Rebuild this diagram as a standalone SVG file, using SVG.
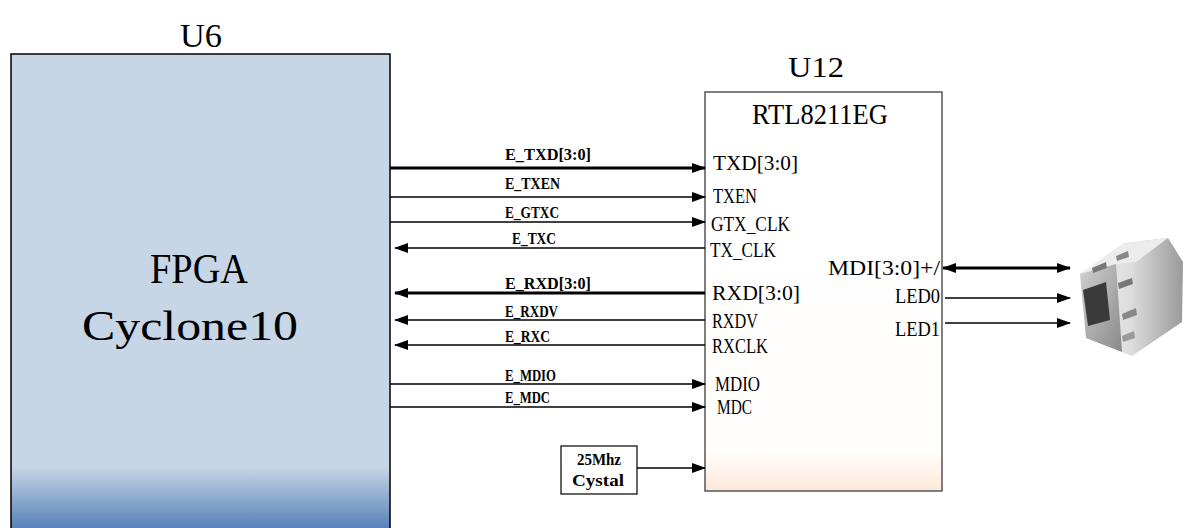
<svg xmlns="http://www.w3.org/2000/svg" width="1186" height="528" viewBox="0 0 1186 528">
<defs>
<linearGradient id="fpgaGrad" x1="0" y1="0" x2="0" y2="1">
<stop offset="0" stop-color="#c6d6e6"/>
<stop offset="0.86" stop-color="#c6d6e6"/>
<stop offset="1" stop-color="#4d79b5"/>
</linearGradient>
<linearGradient id="phyGrad" x1="0" y1="0" x2="0" y2="1">
<stop offset="0" stop-color="#ffffff"/>
<stop offset="0.9" stop-color="#fffefd"/>
<stop offset="1" stop-color="#fde8d9"/>
</linearGradient>
<linearGradient id="jackGrad" x1="0" y1="0" x2="1" y2="0">
<stop offset="0" stop-color="#f4f4f4"/>
<stop offset="0.5" stop-color="#dcdcdc"/>
<stop offset="1" stop-color="#9a9a9a"/>
</linearGradient>
<linearGradient id="jackFront" x1="0" y1="0" x2="1" y2="1">
<stop offset="0" stop-color="#d0d0d0"/>
<stop offset="1" stop-color="#8a8a8a"/>
</linearGradient>
<marker id="arr" markerUnits="userSpaceOnUse" markerWidth="14" markerHeight="10" refX="13" refY="5" orient="auto-start-reverse">
<path d="M0,0 L14,5 L0,10 z" fill="#000"/>
</marker>
<style>
.t{font-family:"Liberation Serif","DejaVu Serif",serif;fill:#000}
.lbl{font-family:"Liberation Serif","DejaVu Serif",serif;font-size:16px;font-weight:bold;fill:#000}
.pin{font-family:"Liberation Serif","DejaVu Serif",serif;font-size:22px;fill:#000}
.w{stroke:#000;stroke-width:1.5;fill:none}
.wt{stroke:#000;stroke-width:3;fill:none}
</style>
</defs>

<g id="U6">
<text class="t" x="201" y="47" font-size="34" text-anchor="middle" textLength="42" lengthAdjust="spacingAndGlyphs">U6</text>
<rect x="11" y="54" width="379" height="480" fill="url(#fpgaGrad)" stroke="#000" stroke-width="1.5"/>
<text class="t" x="199" y="283" font-size="42" text-anchor="middle" textLength="98" lengthAdjust="spacingAndGlyphs">FPGA</text>
<text class="t" x="190" y="340" font-size="42" text-anchor="middle" textLength="216" lengthAdjust="spacingAndGlyphs">Cyclone10</text>
</g>

<g id="U12">
<text class="t" x="816" y="77" font-size="29" text-anchor="middle" textLength="56" lengthAdjust="spacingAndGlyphs">U12</text>
<rect x="705" y="92" width="237" height="399" fill="url(#phyGrad)" stroke="#555" stroke-width="1.5"/>
<text class="t" x="820" y="124" font-size="29" text-anchor="middle" textLength="136" lengthAdjust="spacingAndGlyphs">RTL8211EG</text>
<text class="pin" x="713" y="170" textLength="85" lengthAdjust="spacingAndGlyphs">TXD[3:0]</text>
<text class="pin" x="713" y="203" textLength="44" lengthAdjust="spacingAndGlyphs">TXEN</text>
<text class="pin" x="711" y="231" textLength="79" lengthAdjust="spacingAndGlyphs">GTX_CLK</text>
<text class="pin" x="710" y="257" textLength="66" lengthAdjust="spacingAndGlyphs">TX_CLK</text>
<text class="pin" x="712" y="300" textLength="88" lengthAdjust="spacingAndGlyphs">RXD[3:0]</text>
<text class="pin" x="712" y="328" textLength="46" lengthAdjust="spacingAndGlyphs">RXDV</text>
<text class="pin" x="712" y="353" textLength="56" lengthAdjust="spacingAndGlyphs">RXCLK</text>
<text class="pin" x="715" y="391" textLength="45" lengthAdjust="spacingAndGlyphs">MDIO</text>
<text class="pin" x="717" y="414" textLength="35" lengthAdjust="spacingAndGlyphs">MDC</text>
<text class="pin" x="940" y="275" text-anchor="end" textLength="112" lengthAdjust="spacingAndGlyphs">MDI[3:0]+/</text>
<text class="pin" x="940" y="303" text-anchor="end" textLength="45" lengthAdjust="spacingAndGlyphs">LED0</text>
<text class="pin" x="940" y="336" text-anchor="end" textLength="45" lengthAdjust="spacingAndGlyphs">LED1</text>
</g>

<g id="crystal">
<rect x="561" y="446" width="76" height="48" fill="#fff" stroke="#000" stroke-width="1.2"/>
<text class="lbl" x="599" y="465" text-anchor="middle" textLength="44" lengthAdjust="spacingAndGlyphs">25Mhz</text>
<text class="lbl" x="598" y="486" text-anchor="middle" textLength="52" lengthAdjust="spacingAndGlyphs">Cystal</text>
</g>

<g id="rj45">
<path d="M1080,274 L1124,243 L1168,238 L1183,262 L1182,322 L1132,356 L1086,338 Z" fill="url(#jackGrad)"/>
<path d="M1080,274 L1124,243 L1168,238 L1136,262 L1116,264 Z" fill="#ececec"/>
<path d="M1080,274 L1116,264 L1122,352 L1086,338 Z" fill="url(#jackFront)"/>
<path d="M1083,290 L1106,282 L1110,320 L1088,326 Z" fill="#3a3a3a"/>
<path d="M1092,268 L1106,262 L1107,268 L1093,273 Z" fill="#777"/>
<path d="M1116,256 L1128,251 L1129,257 L1117,261 Z" fill="#888"/>
<path d="M1118,283 L1132,278 L1133,284 L1119,289 Z" fill="#777"/>
<path d="M1122,314 L1136,308 L1137,315 L1123,320 Z" fill="#888"/>
<path d="M1122,336 L1134,331 L1135,338 L1123,342 Z" fill="#999"/>
</g>

<g id="connectors">
<line class="wt" x1="390" y1="168" x2="705" y2="168" marker-end="url(#arr)"/>
<text class="lbl" x="505" y="160" textLength="86" lengthAdjust="spacingAndGlyphs">E_TXD[3:0]</text>
<line class="w" x1="390" y1="197" x2="705" y2="197" marker-end="url(#arr)"/>
<text class="lbl" x="505" y="189" textLength="55" lengthAdjust="spacingAndGlyphs">E_TXEN</text>
<line class="w" x1="390" y1="222" x2="705" y2="222" marker-end="url(#arr)"/>
<text class="lbl" x="505" y="218" textLength="54" lengthAdjust="spacingAndGlyphs">E_GTXC</text>
<line class="w" x1="705" y1="248" x2="395" y2="248" marker-end="url(#arr)"/>
<text class="lbl" x="512" y="244" textLength="44" lengthAdjust="spacingAndGlyphs">E_TXC</text>
<line class="wt" x1="705" y1="293" x2="395" y2="293" marker-end="url(#arr)"/>
<text class="lbl" x="505" y="289" textLength="86" lengthAdjust="spacingAndGlyphs">E_RXD[3:0]</text>
<line class="w" x1="705" y1="320" x2="395" y2="320" marker-end="url(#arr)"/>
<text class="lbl" x="505" y="317" textLength="53" lengthAdjust="spacingAndGlyphs">E_RXDV</text>
<line class="w" x1="705" y1="345" x2="395" y2="345" marker-end="url(#arr)"/>
<text class="lbl" x="505" y="342" textLength="45" lengthAdjust="spacingAndGlyphs">E_RXC</text>
<line class="w" x1="390" y1="384" x2="705" y2="384" marker-end="url(#arr)"/>
<text class="lbl" x="505" y="381" textLength="51" lengthAdjust="spacingAndGlyphs">E_MDIO</text>
<line class="w" x1="390" y1="407" x2="705" y2="407" marker-end="url(#arr)"/>
<text class="lbl" x="505" y="403" textLength="45" lengthAdjust="spacingAndGlyphs">E_MDC</text>
<line class="w" x1="637" y1="468" x2="705" y2="468" marker-end="url(#arr)"/>
<line class="wt" x1="943" y1="268" x2="1070" y2="268" marker-start="url(#arr)" marker-end="url(#arr)"/>
<line class="w" x1="945" y1="298" x2="1070" y2="298" marker-end="url(#arr)"/>
<line class="w" x1="945" y1="323" x2="1070" y2="323" marker-end="url(#arr)"/>
</g>
</svg>
